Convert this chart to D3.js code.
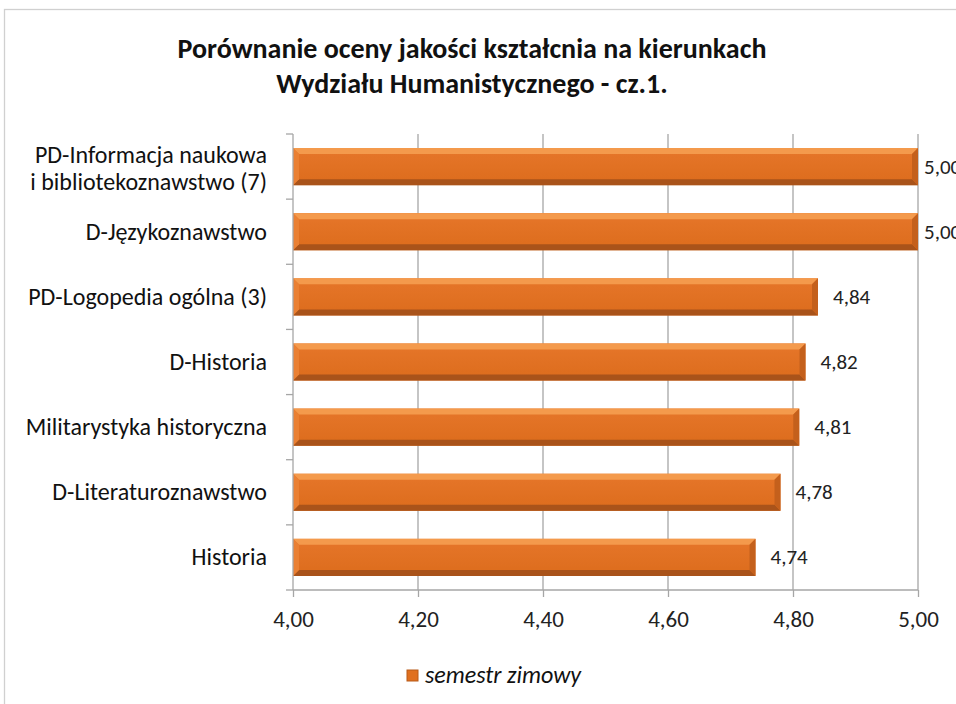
<!DOCTYPE html>
<meta charset="utf-8">
<head>
<style>
body { margin: 0; background: #fff; }
svg { font-family: Carlito, "Open Sans", "Liberation Sans", sans-serif; }
.grid line { stroke: #a6a6a6; stroke-width: 1.3px; }
.axis path, .axis line { stroke: #a6a6a6; stroke-width: 1.3px; }
.axis text { fill: #222; font-size: 23px; font-family: Carlito, "Open Sans", sans-serif; }
</style>
</head>
<body>
<svg></svg>
<script src="https://d3js.org/d3.v7.min.js"></script>
<script>
var categories = [
  ["PD-Informacja naukowa", "i bibliotekoznawstwo (7)"],
  ["D-Językoznawstwo"],
  ["PD-Logopedia ogólna (3)"],
  ["D-Historia"],
  ["Militarystyka historyczna"],
  ["D-Literaturoznawstwo"],
  ["Historia"]
];
var values = [5.00, 5.00, 4.84, 4.82, 4.81, 4.78, 4.74];
var xTicks = [4.0, 4.2, 4.4, 4.6, 4.8, 5.0];
var seriesName = "semestr zimowy";
var titleLines = ["Porównanie oceny jakości kształcnia na kierunkach", "Wydziału Humanistycznego - cz.1."];

var W = 956, H = 704;
var fmt = function (v) { return v.toFixed(2).replace(".", ","); };

var svg = d3.select("svg").attr("width", W).attr("height", H);

// chart frame
svg.append("rect").attr("x", 4.5).attr("y", 9.5).attr("width", W + 10).attr("height", H)
  .attr("fill", "#fff").attr("stroke", "#d0d0d0").attr("stroke-width", 1.3);

// title
svg.append("g").selectAll("text").data(titleLines).enter().append("text")
  .attr("x", 472).attr("y", function (d, i) { return 58 + i * 35; })
  .attr("text-anchor", "middle").attr("font-weight", "bold").attr("font-size", "28px")
  .attr("fill", "#111").text(function (d) { return d; });

var x = d3.scaleLinear().domain([4, 5]).range([293, 918]);
var idx = d3.range(categories.length);
var y = d3.scaleBand().domain(idx).range([134, 590]).paddingInner(0.43).paddingOuter(0.215);
var step = y.step();

// gridlines
svg.append("g").attr("class", "grid").selectAll("line").data(xTicks.slice(1)).enter().append("line")
  .attr("x1", function (d) { return x(d); }).attr("x2", function (d) { return x(d); })
  .attr("y1", 134).attr("y2", 590);

// gradient for bar face
var defs = svg.append("defs");
var g1 = defs.append("linearGradient").attr("id", "barg").attr("x1", 0).attr("x2", 0).attr("y1", 0).attr("y2", 1);
g1.append("stop").attr("offset", "0%").attr("stop-color", "#e6762a");
g1.append("stop").attr("offset", "100%").attr("stop-color", "#dc6c1c");

// bars with bevel
var bev = 6;
var bars = svg.append("g").selectAll("g").data(values).enter().append("g");
bars.append("rect")
  .attr("x", x(4)).attr("y", function (d, i) { return y(i); })
  .attr("width", function (d) { return x(d) - x(4); }).attr("height", y.bandwidth())
  .attr("fill", "url(#barg)");
function poly(pts) { return pts.map(function (p) { return p.join(","); }).join(" "); }
bars.append("polygon").attr("fill", "#f49a4c").attr("points", function (d, i) {
  var x0 = x(4), x1 = x(d), y0 = y(i);
  return poly([[x0, y0], [x1, y0], [x1 - bev, y0 + bev], [x0 + bev, y0 + bev]]);
});
bars.append("polygon").attr("fill", "#a9531a").attr("points", function (d, i) {
  var x0 = x(4), x1 = x(d), y1 = y(i) + y.bandwidth();
  return poly([[x0, y1], [x1, y1], [x1 - bev, y1 - bev], [x0 + bev, y1 - bev]]);
});
bars.append("polygon").attr("fill", "#ea8033").attr("points", function (d, i) {
  var x0 = x(4), y0 = y(i), y1 = y0 + y.bandwidth();
  return poly([[x0, y0], [x0 + bev, y0 + bev], [x0 + bev, y1 - bev], [x0, y1]]);
});
bars.append("polygon").attr("fill", "#c4601c").attr("points", function (d, i) {
  var x1 = x(d), y0 = y(i), y1 = y0 + y.bandwidth();
  return poly([[x1, y0], [x1 - bev, y0 + bev], [x1 - bev, y1 - bev], [x1, y1]]);
});

// value labels (pushed against the right edge like in the original when at max)
svg.append("g").selectAll("text").data(values).enter().append("text")
  .attr("x", function (d) { return Math.min(x(d) + 15, x(5) + 6); })
  .attr("y", function (d, i) { return y(i) + y.bandwidth() / 2 + 7; })
  .attr("font-size", "21px").attr("fill", "#222").text(function (d) { return fmt(d); });

// left axis with ticks at category boundaries
var ax = svg.append("g").attr("class", "axis");
ax.append("line").attr("x1", 293).attr("x2", 293).attr("y1", 134).attr("y2", 590);
ax.selectAll("line.tk").data(d3.range(categories.length + 1)).enter().append("line").attr("class", "tk")
  .attr("x1", 286).attr("x2", 293)
  .attr("y1", function (d) { return 134 + d * step; }).attr("y2", function (d) { return 134 + d * step; });

// category labels
var cl = svg.append("g").selectAll("text").data(categories).enter().append("text")
  .attr("text-anchor", "end").attr("font-size", "24px").attr("fill", "#111")
  .attr("y", function (d, i) { return y(i) + y.bandwidth() / 2 + 8 - (d.length - 1) * 11.5; });
cl.selectAll("tspan").data(function (d) { return d; }).enter().append("tspan")
  .attr("x", 267).attr("dy", function (d, j) { return j ? 27 : 0; }).text(function (d) { return d; });

// bottom axis
svg.append("g").attr("class", "axis").attr("transform", "translate(0,590)")
  .call(d3.axisBottom(x).tickValues(xTicks).tickFormat(fmt).tickSize(7).tickPadding(14))
  .call(function (g) { g.select(".domain").attr("d", "M" + x(4) + ",0H" + x(5)); });

// legend
var lg = svg.append("g").attr("transform", "translate(407,670)");
lg.append("rect").attr("width", 11).attr("height", 11).attr("fill", "#e0701f").attr("stroke", "#b85a18");
lg.append("text").attr("x", 18).attr("y", 13).attr("font-size", "24px").attr("font-style", "italic")
  .attr("fill", "#111").text(seriesName);
</script>
</body>
</html>
